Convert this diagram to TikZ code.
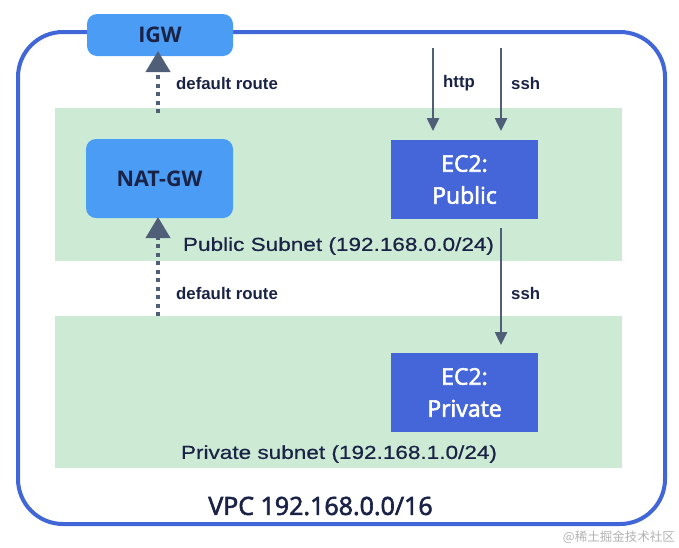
\documentclass[tikz,border=0pt]{standalone}
\usepackage{fontspec}
\setmainfont{Liberation Sans}
\newfontfamily\osans{Open Sans}
\newfontfamily\osanssemi[FakeBold=2.5]{Open Sans}
\newfontfamily\widesans[FakeStretch=1.2,FakeBold=0.6]{Liberation Sans}
\newfontfamily\cjk{Noto Sans CJK SC}
\usetikzlibrary{arrows.meta}
\definecolor{vpcblue}{HTML}{4166D8}
\definecolor{gwblue}{HTML}{4A9CF4}
\definecolor{ecblue}{HTML}{4466D9}
\definecolor{subgreen}{HTML}{CDEBD4}
\definecolor{arrowc}{HTML}{4F5F78}
\definecolor{navy}{HTML}{1A2346}
\tikzset{
  gw/.style={draw=none, fill=gwblue, rounded corners=10pt, text=navy, font=\osans\bfseries\fontsize{21.5}{25}\selectfont},
  ecbox/.style={draw=none, fill=ecblue, text=white, font=\osanssemi\fontsize{23}{32}\selectfont, align=center},
  sub/.style={draw=none, fill=subgreen},
  lbl/.style={text=navy, font=\bfseries\fontsize{16.8}{19}\selectfont, anchor=west, inner sep=0pt},
  sublbl/.style={text=navy, font=\widesans\fontsize{18.8}{22}\selectfont, inner sep=0pt},
  dotarrow/.style={draw=arrowc, line width=4pt, dash pattern=on 4pt off 4.5pt, -{Triangle[width=24pt,length=21pt]}},
  solarrow/.style={draw=arrowc, line width=2.5pt, -{Triangle[width=12pt,length=13pt]}}
}
\begin{document}
\begin{tikzpicture}[x=1pt,y=-1pt]
\useasboundingbox (0,0) rectangle (679,547);
% VPC outline
\draw[vpcblue, line width=4pt, rounded corners=45pt] (18,32) rectangle (665,524);
% subnets
\path[sub] (55,108) rectangle (622,261);
\path[sub] (55,316) rectangle (622,468);
% nodes
\node[gw, minimum width=146pt, minimum height=42pt] (igw) at (160,35) {IGW};
\node[gw, minimum width=147pt, minimum height=79pt] (nat) at (159.5,178.5) {NAT-GW};
\node[ecbox, minimum width=147pt, minimum height=79pt] (ecpub) at (464.5,179.5) {EC2:\\Public};
\node[ecbox, minimum width=147pt, minimum height=79pt] (ecpriv) at (464.5,392.5) {EC2:\\Private};
% subnet labels
\node[sublbl] (publbl) at (338.5,246) {Public Subnet (192.168.0.0/24)};
\node[sublbl] (privlbl) at (339,454) {Private subnet (192.168.1.0/24)};
\node[text=navy, font=\osanssemi\fontsize{25}{29}\selectfont, inner sep=0pt] (vpclbl) at (320.5,506) {VPC 192.168.0.0/16};
% coordinates for arrow ends
\coordinate (natsrc) at (158,113);
\coordinate (privsrc) at (158,316);
\coordinate (httpsrc) at (433,48);
\coordinate (httpdst) at (433,131);
\coordinate (sshsrc) at (501,48);
\coordinate (sshdst) at (501,131);
\coordinate (ssh2src) at (501,228);
\coordinate (ssh2dst) at (501,345);
% arrows
\draw[dotarrow] (natsrc) -- (158,51);
\draw[dotarrow] (privsrc) -- (158,217);
\draw[solarrow] (httpsrc) -- (httpdst);
\draw[solarrow] (sshsrc) -- (sshdst);
\draw[solarrow] (ssh2src) -- (ssh2dst);
% labels
\node[lbl] (dr1) at (176,83) {default route};
\node[lbl] (dr2) at (176,293) {default route};
\node[lbl] (httplbl) at (443,83) {http};
\node[lbl] (sshlbl) at (511,83) {ssh};
\node[lbl] (ssh2lbl) at (511,293) {ssh};
% watermark
\node[text=black!30, font=\cjk\fontsize{12.5}{14}\selectfont, anchor=east, inner sep=0pt] (wm) at (675,537) {@稀土掘金技术社区};
\end{tikzpicture}
\end{document}
